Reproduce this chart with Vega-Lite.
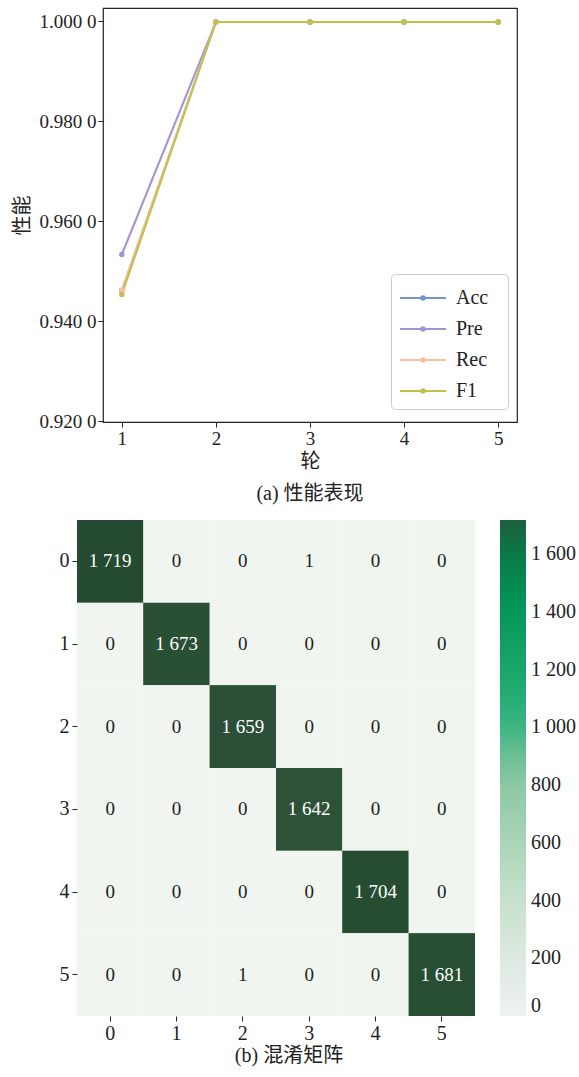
{
  "$schema": "https://vega.github.io/schema/vega-lite/v6.json",
  "background": "white",
  "padding": {"left": 11, "top": 7, "right": 5, "bottom": 5},
  "spacing": 15,
  "config": {
    "font": "Liberation Serif, 'Noto Sans CJK SC'",
    "view": {"stroke": null},
    "axis": {
      "labelFont": "Liberation Serif, 'Noto Sans CJK SC'",
      "titleFont": "Liberation Serif, 'Noto Sans CJK SC'",
      "labelFontSize": 19,
      "titleFontSize": 20,
      "titleFontWeight": "normal",
      "labelColor": "#222222",
      "titleColor": "#222222",
      "tickColor": "#222222",
      "tickSize": 5,
      "grid": false
    },
    "title": {"fontSize": 20, "fontWeight": "normal", "color": "#222222", "font": "Liberation Serif, 'Noto Sans CJK SC'"},
    "legend": {"labelFontSize": 20, "labelFont": "Liberation Serif, 'Noto Sans CJK SC'", "labelColor": "#222222"}
  },
  "vconcat": [
    {
      "width": 414,
      "height": 414,
      "view": {"stroke": "#222222", "strokeWidth": 1.2},
      "title": {"text": "(a) 性能表现", "orient": "bottom", "offset": 13},
      "data": {
        "values": [
          {"round": 1, "metric": "Acc", "value": 0.9461},
          {"round": 2, "metric": "Acc", "value": 0.9998},
          {"round": 3, "metric": "Acc", "value": 0.9998},
          {"round": 4, "metric": "Acc", "value": 0.9998},
          {"round": 5, "metric": "Acc", "value": 0.9998},
          {"round": 1, "metric": "Pre", "value": 0.9533},
          {"round": 2, "metric": "Pre", "value": 0.9998},
          {"round": 3, "metric": "Pre", "value": 0.9998},
          {"round": 4, "metric": "Pre", "value": 0.9998},
          {"round": 5, "metric": "Pre", "value": 0.9998},
          {"round": 1, "metric": "Rec", "value": 0.9462},
          {"round": 2, "metric": "Rec", "value": 0.9998},
          {"round": 3, "metric": "Rec", "value": 0.9998},
          {"round": 4, "metric": "Rec", "value": 0.9998},
          {"round": 5, "metric": "Rec", "value": 0.9998},
          {"round": 1, "metric": "F1", "value": 0.9453},
          {"round": 2, "metric": "F1", "value": 0.9998},
          {"round": 3, "metric": "F1", "value": 0.9998},
          {"round": 4, "metric": "F1", "value": 0.9998},
          {"round": 5, "metric": "F1", "value": 0.9998}
        ]
      },
      "mark": {"type": "line", "strokeWidth": 2, "point": {"filled": true, "size": 30}},
      "encoding": {
        "x": {
          "field": "round",
          "type": "quantitative",
          "scale": {"domain": [0.8, 5.2], "nice": false, "zero": false},
          "axis": {"title": "轮", "values": [1, 2, 3, 4, 5], "format": "d", "domain": false, "labelPadding": 2, "titlePadding": 3}
        },
        "y": {
          "field": "value",
          "type": "quantitative",
          "scale": {"domain": [0.9198, 1.0026], "nice": false, "zero": false},
          "axis": {
            "title": "性能",
            "values": [0.92, 0.94, 0.96, 0.98, 1.0],
            "labelExpr": "substring(format(datum.value, '.4f'), 0, 5) + ' ' + substring(format(datum.value, '.4f'), 5)",
            "domain": false,
            "labelPadding": 2,
            "titlePadding": 7
          }
        },
        "color": {
          "field": "metric",
          "type": "nominal",
          "sort": ["Acc", "Pre", "Rec", "F1"],
          "scale": {"domain": ["Acc", "Pre", "Rec", "F1"], "range": ["#6f95d0", "#a592cf", "#f9be9a", "#c2c04a"]},
          "legend": {
            "title": " ",
            "titleOrient": "right",
            "titlePadding": 12,
            "orient": "none",
            "legendX": 288,
            "legendY": 266,
            "fillColor": "white",
            "strokeColor": "#cccccc",
            "cornerRadius": 4,
            "padding": 8,
            "symbolType": "M-1,0H2.07M0.65,0A0.12,0.12 0 1,1 0.41,0A0.12,0.12 0 1,1 0.65,0",
            "symbolSize": 900,
            "symbolStrokeWidth": 2,
            "labelOffset": 25,
            "rowPadding": 5
          }
        }
      }
    },
    {
      "width": 372,
      "height": 496,
      "title": {"text": "(b) 混淆矩阵", "orient": "bottom", "offset": 3},
      "data": {
        "values": [
          {"actual": 0, "pred": 0, "count": 1719}, {"actual": 0, "pred": 1, "count": 0}, {"actual": 0, "pred": 2, "count": 0},
          {"actual": 0, "pred": 3, "count": 1}, {"actual": 0, "pred": 4, "count": 0}, {"actual": 0, "pred": 5, "count": 0},
          {"actual": 1, "pred": 0, "count": 0}, {"actual": 1, "pred": 1, "count": 1673}, {"actual": 1, "pred": 2, "count": 0},
          {"actual": 1, "pred": 3, "count": 0}, {"actual": 1, "pred": 4, "count": 0}, {"actual": 1, "pred": 5, "count": 0},
          {"actual": 2, "pred": 0, "count": 0}, {"actual": 2, "pred": 1, "count": 0}, {"actual": 2, "pred": 2, "count": 1659},
          {"actual": 2, "pred": 3, "count": 0}, {"actual": 2, "pred": 4, "count": 0}, {"actual": 2, "pred": 5, "count": 0},
          {"actual": 3, "pred": 0, "count": 0}, {"actual": 3, "pred": 1, "count": 0}, {"actual": 3, "pred": 2, "count": 0},
          {"actual": 3, "pred": 3, "count": 1642}, {"actual": 3, "pred": 4, "count": 0}, {"actual": 3, "pred": 5, "count": 0},
          {"actual": 4, "pred": 0, "count": 0}, {"actual": 4, "pred": 1, "count": 0}, {"actual": 4, "pred": 2, "count": 0},
          {"actual": 4, "pred": 3, "count": 0}, {"actual": 4, "pred": 4, "count": 1704}, {"actual": 4, "pred": 5, "count": 0},
          {"actual": 5, "pred": 0, "count": 0}, {"actual": 5, "pred": 1, "count": 0}, {"actual": 5, "pred": 2, "count": 1},
          {"actual": 5, "pred": 3, "count": 0}, {"actual": 5, "pred": 4, "count": 0}, {"actual": 5, "pred": 5, "count": 1681}
        ]
      },
      "transform": [
        {"calculate": "replace(format(datum.count, ','), ',', ' ')", "as": "label"}
      ],
      "encoding": {
        "x": {
          "field": "pred",
          "type": "ordinal",
          "scale": {"range": [-26, 372], "paddingInner": 0, "paddingOuter": 0},
          "axis": {"title": null, "labelAngle": 0, "domain": false, "labelPadding": 2, "labelFontSize": 20}
        },
        "y": {
          "field": "actual",
          "type": "ordinal",
          "scale": {"paddingInner": 0, "paddingOuter": 0},
          "axis": {"title": null, "domain": false, "offset": 26, "labelPadding": 3, "labelFontSize": 20}
        }
      },
      "layer": [
        {
          "mark": {"type": "rect"},
          "encoding": {
            "color": {
              "field": "count",
              "type": "quantitative",
              "scale": {
                "domain": [0, 200, 400, 600, 800, 900, 1000, 1100, 1200, 1400, 1600, 1719],
                "range": ["#eef2f0", "#dde9e0", "#c6e1cd", "#a9d5b7", "#8cc9a3", "#6cbf94", "#3eb584", "#27ad77", "#1aa56c", "#03985a", "#0a7a47", "#1a5f3d"]
              },
              "legend": {
                "title": null,
                "orient": "right",
                "offset": 25,
                "padding": 0,
                "gradientLength": 496,
                "gradientThickness": 26,
                "gradientStrokeWidth": 0,
                "values": [0, 200, 400, 600, 800, 1000, 1200, 1400, 1600],
                "labelExpr": "replace(format(datum.value, ','), ',', ' ')",
                "labelOverlap": false,
                "labelBaseline": "middle",
                "labelFontSize": 20,
                "labelOffset": 5
              }
            }
          }
        },
        {
          "mark": {"type": "rect"},
          "encoding": {
            "color": {
              "field": "count",
              "type": "quantitative",
              "scale": {"domain": [0, 1719], "range": ["#f0f6ef", "#244b31"]},
              "legend": null
            }
          }
        },
        {
          "mark": {"type": "text", "fontSize": 19, "font": "Liberation Serif"},
          "encoding": {
            "text": {"field": "label", "type": "nominal"},
            "color": {"condition": {"test": "datum.count > 800", "value": "white"}, "value": "#222222"}
          }
        }
      ],
      "resolve": {"scale": {"color": "independent"}, "legend": {"color": "independent"}}
    }
  ]
}
